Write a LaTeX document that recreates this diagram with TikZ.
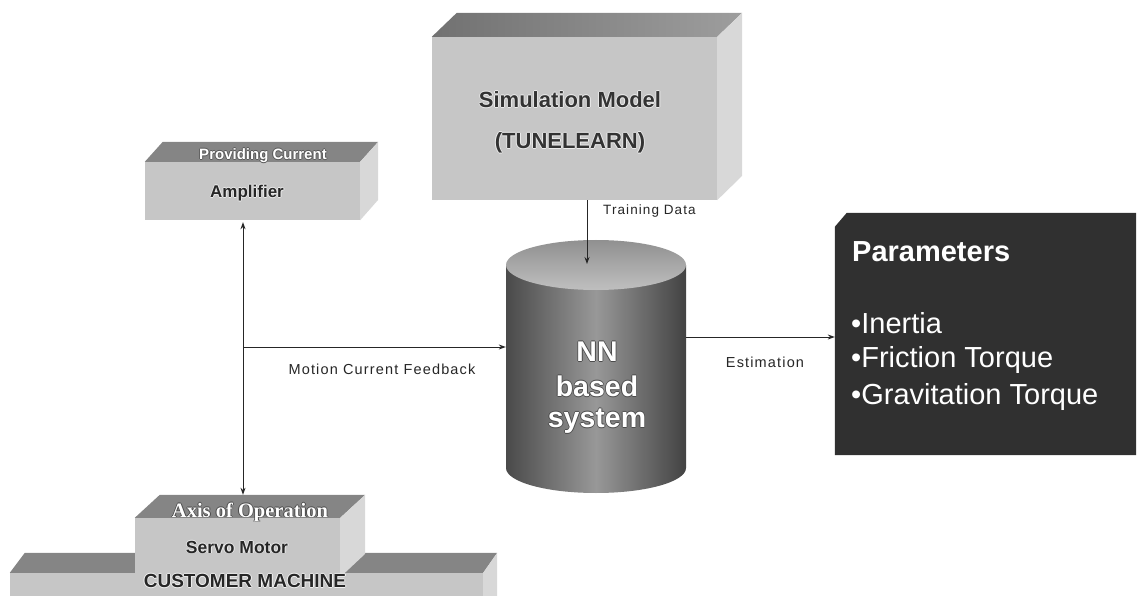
\documentclass[tikz,border=0pt]{standalone}
\usepackage{fontspec}
\setmainfont{Liberation Sans}
\newfontfamily\labelfont[LetterSpace=8]{Liberation Sans}
\newfontfamily\axisfont{Liberation Serif}
\usetikzlibrary{arrows.meta}

% text with a thin halo of another colour around it
\newcommand\outlined[2]{%
  \leavevmode
  \rlap{\color{#1}\kern-.9pt#2}%
  \rlap{\color{#1}\kern.9pt#2}%
  \rlap{\color{#1}\raisebox{.9pt}{#2}}%
  \rlap{\color{#1}\raisebox{-.9pt}{#2}}%
  #2}
\newcommand\fsz[1]{\fontsize{#1}{#1}\selectfont}

\definecolor{frontgray}{HTML}{C6C6C6}
\definecolor{topgray}{HTML}{858585}
\definecolor{sidegray}{HTML}{D8D8D8}
\definecolor{cyldark}{HTML}{4A4A4A}
\definecolor{cyllight}{HTML}{989898}
\definecolor{cyltop}{HTML}{B4B4B4}
\definecolor{pardark}{HTML}{303030}

\begin{document}
\begin{tikzpicture}[x=1pt,y=-1pt,
  frontface/.style={fill=frontgray, draw=none, inner sep=0pt},
  topface/.style={fill=topgray},
  sideface/.style={fill=sidegray},
  conn/.style={draw=black!85, line width=0.9pt},
  arr/.style={conn, -{Stealth[length=7pt,width=5pt]}},
  biarr/.style={conn, {Stealth[length=7pt,width=5pt]}-{Stealth[length=7pt,width=5pt]}},
  lbl/.style={font=\labelfont\fsz{#1}, text=black!85, inner sep=0pt},
  lbl/.default=14.5,
  boldtxt/.style={font=\bfseries\fsz{#1}, inner sep=0pt},
  partxt/.style={font=\fsz{29}, text=white, inner sep=0pt, anchor=west}
]
\useasboundingbox (0,0) rectangle (1138,596);

% ---------- Amplifier block ----------
\node[frontface, minimum width=215, minimum height=58] (amp) at (252.5,191) {};
\fill[topface] (amp.north west) -- ++(18,-20) -- ([shift={(18,-20)}]amp.north east) -- (amp.north east) -- cycle;
\fill[sideface] (amp.north east) -- ++(18,-20) -- ++(0,58) -- (amp.south east) -- cycle;
\node[boldtxt=15, text=white] (ampTop) at (263,156) {\outlined{black!65}{Providing Current}};
\node[boldtxt=17, text=black!85] (ampName) at (247,193) {\outlined{white!85!gray}{Amplifier}};

% ---------- Simulation model block ----------
\node[frontface, minimum width=285, minimum height=163] (sim) at (574.5,118.5) {};
\shade[left color=topgray!85!black, right color=topgray!80!white]
  (sim.north west) -- ++(25,-24) -- ([shift={(25,-24)}]sim.north east) -- (sim.north east) -- cycle;
\fill[sideface] (sim.north east) -- ++(25,-24) -- ++(0,163) -- (sim.south east) -- cycle;
\node[boldtxt=22, text=black!80] (simA) at (570,100) {\outlined{white!85!gray}{Simulation Model}};
\node[boldtxt=22, text=black!80] (simB) at (570,143) {\outlined{white!85!gray}{(TUNELEARN)}};

% ---------- NN cylinder ----------
\node[minimum width=180, minimum height=253, inner sep=0pt] (nn) at (596,366.5) {};
\shade[left color=cyldark, right color=cyldark!90!black, middle color=cyllight]
  (506,265) -- (506,468) arc[start angle=180, end angle=360, x radius=90, y radius=-25]
  -- (686,265) -- cycle;
\shade[top color=cyltop!80!black, bottom color=cyltop!85!white]
  (596,265) ellipse[x radius=90, y radius=25];
\node[boldtxt=28.5, text=white] (nn1) at (597,352) {\outlined{black!70}{NN}};
\node[boldtxt=28.5, text=white] (nn2) at (597,386) {\outlined{black!70}{based}};
\node[boldtxt=28.5, text=white] (nn3) at (597,421) {\outlined{black!70}{system}};
\coordinate (nnTop) at (596,264);

% ---------- Parameters block ----------
\node[minimum width=301, minimum height=242, inner sep=0pt] (par) at (985.5,334) {};
\fill[pardark] (par.south west) -- ([yshift=-14]par.north west) -- ([xshift=12]par.north west)
  -- (par.north east) -- (par.south east) -- cycle;
\node[boldtxt=29, text=white, anchor=west] (parT) at (852,252) {Parameters};
\node[partxt] (par1) at (851,323) {•Inertia};
\node[partxt] (par2) at (851,360) {•Friction Torque};
\node[partxt] (par3) at (851,397) {•Gravitation Torque};

% ---------- Customer machine slab ----------
\node[frontface, minimum width=473, minimum height=23] (cm) at (246.5,584.5) {};
\fill[topface] (cm.north west) -- ++(15,-20) -- ([shift={(14,-20)}]cm.north east) -- (cm.north east) -- cycle;
\fill[sideface] (cm.north east) -- ++(14,-20) -- ++(0,43) -- (cm.south east) -- cycle;

% ---------- Servo motor block ----------
\node[frontface, minimum width=205, minimum height=59] (servo) at (237.5,547.5) {};
\fill[topface] (servo.north west) -- ++(25,-23) coordinate (servoBackL)
  -- ([shift={(25,-23)}]servo.north east) -- (servo.north east) -- cycle;
\fill[sideface] (servo.north east) -- ++(25,-23) -- ++(0,59) -- (servo.south east) -- cycle;
\node[boldtxt=20, font=\axisfont\bfseries\fsz{20.5}, text=white] (axis) at (250,512) {\outlined{black!70}{Axis of Operation}};
\node[boldtxt=17.5, text=black!85] (servoName) at (237,547) {\outlined{white!85!gray}{Servo Motor}};
\node[boldtxt=19, text=black!85] (cmName) at (245,581) {\outlined{white!90!gray}{CUSTOMER MACHINE}};

% ---------- Connectors ----------
\coordinate (feed) at (243,347);
\draw[biarr] ([yshift=-2]feed |- amp.south) -- (feed |- servoBackL);
\draw[arr] (feed) -- (feed -| nn.west);
\draw[arr] ([xshift=12.5]sim.south) coordinate (drop) -- (drop |- nnTop);
\draw[arr] ([yshift=29.5]nn.east) coordinate (est) -- (est -| par.west);

% ---------- Connector labels ----------
\node[lbl=13.5, anchor=west] (trainLbl) at (603,211) {Training Data};
\node[lbl] (motionLbl) at (382,369) {Motion Current Feedback};
\node[lbl] (estLbl) at (765,362) {Estimation};
\end{tikzpicture}
\end{document}
